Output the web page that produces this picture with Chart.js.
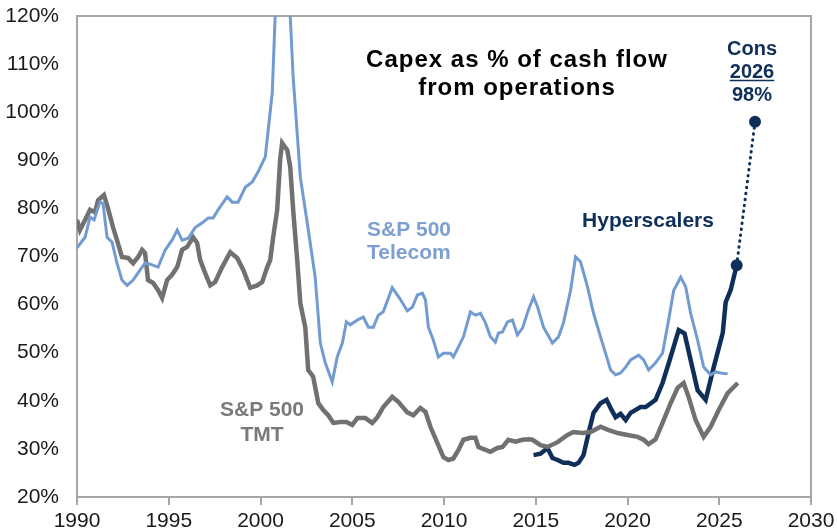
<!DOCTYPE html>
<html>
<head>
<meta charset="utf-8">
<script src="https://cdn.jsdelivr.net/npm/chart.js@4.4.0/dist/chart.umd.min.js"></script>
<style>
  html, body { margin: 0; padding: 0; background: #fff; }
  #wrap { width: 837px; height: 531px; }
</style>
</head>
<body>
<div id="wrap"><canvas id="myChart" width="837" height="531"></canvas></div>
<script>
// S&P 500 Telecom, capex as % of CFO
let telecomYears = [1990.00, 1990.44, 1990.71, 1990.93, 1991.25, 1991.42, 1991.64, 1991.91, 1992.18, 1992.45,
  1992.73, 1993.06, 1993.44, 1993.71, 1993.98, 1994.42, 1994.80, 1995.18, 1995.46, 1995.73,
  1996.06, 1996.44, 1996.82, 1997.15, 1997.42, 1997.69, 1998.18, 1998.46, 1998.78, 1999.17,
  1999.55, 1999.87, 2000.26, 2000.42, 2000.64, 2000.80, 2001.05, 2001.30, 2001.62, 2001.78,
  2002.17, 2002.44, 2002.71, 2002.98, 2003.26, 2003.53, 2003.91, 2004.18, 2004.46, 2004.68,
  2004.89, 2005.28, 2005.60, 2005.88, 2006.15, 2006.42, 2006.69, 2007.18, 2007.60, 2008.00,
  2008.28, 2008.55, 2008.82, 2008.99, 2009.15, 2009.42, 2009.69, 2009.97, 2010.35, 2010.51,
  2010.79, 2011.06, 2011.44, 2011.71, 2011.99, 2012.26, 2012.53, 2012.80, 2012.97, 2013.19,
  2013.46, 2013.73, 2014.00, 2014.28, 2014.60, 2014.88, 2015.10, 2015.42, 2015.91, 2016.24,
  2016.51, 2016.90, 2017.17, 2017.44, 2017.82, 2018.15, 2018.53, 2019.08, 2019.35, 2019.62,
  2019.90, 2020.17, 2020.61, 2020.88, 2021.15, 2021.53, 2021.91, 2022.24, 2022.52, 2022.90,
  2023.17, 2023.44, 2023.82, 2024.15, 2024.53, 2024.81, 2025.08, 2025.46];
let telecomValues = [71.8, 74.0, 78.2, 77.6, 81.3, 81.0, 74.0, 73.0, 68.6, 65.1,
  64.0, 65.1, 67.2, 68.6, 68.4, 67.8, 71.3, 73.4, 75.5, 73.4,
  73.8, 76.0, 77.0, 78.0, 78.0, 79.7, 82.4, 81.3, 81.3, 84.4,
  85.5, 87.6, 90.7, 96.3, 104.0, 120.0, 135.0, 138.0, 120.0, 107.3,
  86.5, 79.7, 72.8, 65.7, 52.0, 47.9, 43.9, 49.1, 52.0, 56.4,
  55.8, 56.8, 57.4, 55.3, 55.3, 57.8, 58.5, 63.5, 61.2, 58.7,
  59.5, 62.0, 62.4, 61.0, 55.3, 52.6, 49.1, 49.9, 49.9, 49.1,
  51.2, 53.3, 58.5, 57.8, 58.2, 56.2, 53.3, 52.2, 54.1, 54.3,
  56.4, 56.8, 53.7, 55.1, 58.9, 61.6, 59.5, 55.3, 52.0, 53.3,
  56.2, 63.0, 69.9, 68.9, 63.7, 58.2, 53.3, 46.4, 45.4, 45.8,
  47.0, 48.5, 49.5, 48.5, 46.4, 47.9, 49.9, 56.8, 63.0, 65.7,
  63.7, 58.2, 52.6, 47.0, 45.4, 46.0, 45.8, 45.6];

// S&P 500 TMT
let tmtYears = [1990.00, 1990.16, 1990.44, 1990.71, 1990.98, 1991.15, 1991.47, 1991.69, 1991.96, 1992.18,
  1992.45, 1992.78, 1993.06, 1993.33, 1993.55, 1993.71, 1993.87, 1994.15, 1994.42, 1994.64,
  1994.91, 1995.18, 1995.46, 1995.73, 1996.00, 1996.33, 1996.55, 1996.71, 1996.98, 1997.26,
  1997.53, 1997.91, 1998.35, 1998.73, 1999.06, 1999.44, 1999.82, 2000.09, 2000.37, 2000.53,
  2000.69, 2000.91, 2001.07, 2001.18, 2001.46, 2001.62, 2001.78, 2002.00, 2002.17, 2002.44,
  2002.60, 2002.87, 2003.15, 2003.42, 2003.69, 2003.97, 2004.35, 2004.68, 2005.00, 2005.28,
  2005.71, 2006.09, 2006.37, 2006.69, 2007.18, 2007.51, 2008.00, 2008.33, 2008.71, 2008.99,
  2009.26, 2009.64, 2009.97, 2010.24, 2010.51, 2010.79, 2011.06, 2011.44, 2011.71, 2011.88,
  2012.26, 2012.53, 2012.91, 2013.19, 2013.51, 2013.90, 2014.28, 2014.60, 2014.82, 2015.26,
  2015.64, 2016.19, 2016.73, 2017.06, 2017.55, 2017.99, 2018.53, 2018.91, 2019.46, 2020.00,
  2020.55, 2020.88, 2021.15, 2021.53, 2021.91, 2022.35, 2022.73, 2023.06, 2023.33, 2023.71,
  2024.15, 2024.53, 2024.97, 2025.46, 2026.01];
let tmtValues = [77.6, 75.5, 77.6, 79.7, 79.2, 81.7, 82.8, 80.0, 76.1, 73.4,
  69.9, 69.7, 68.6, 69.9, 71.4, 70.7, 65.1, 64.5, 63.0, 61.4,
  65.1, 66.2, 67.8, 71.4, 72.0, 74.0, 72.8, 69.3, 66.6, 64.0,
  64.7, 67.8, 70.9, 69.7, 67.2, 63.5, 64.0, 64.7, 67.8, 69.3,
  74.0, 79.7, 90.1, 93.6, 92.1, 88.6, 79.7, 69.3, 60.3, 55.3,
  46.4, 45.0, 39.5, 38.1, 37.0, 35.4, 35.6, 35.6, 35.0, 36.4,
  36.4, 35.4, 36.6, 38.7, 40.8, 39.8, 37.6, 37.0, 38.5, 37.7,
  34.6, 31.2, 28.3, 27.7, 28.0, 29.8, 31.9, 32.3, 32.3, 30.4,
  29.8, 29.4, 30.2, 30.4, 31.9, 31.5, 31.9, 32.0, 31.9, 30.8,
  30.4, 31.4, 32.9, 33.5, 33.3, 33.5, 34.6, 34.0, 33.3, 32.9,
  32.5, 31.9, 31.0, 32.0, 35.4, 39.5, 42.7, 43.7, 40.8, 36.0,
  32.5, 34.6, 38.1, 41.6, 43.7];

// Hyperscalers
let hyperYears = [2014.88, 2015.26, 2015.64, 2015.91, 2016.19, 2016.51, 2016.79, 2017.11, 2017.33, 2017.60,
  2017.88, 2018.15, 2018.53, 2018.86, 2019.13, 2019.35, 2019.62, 2019.90, 2020.17, 2020.71,
  2020.99, 2021.53, 2021.91, 2022.35, 2022.79, 2023.11, 2023.44, 2023.82, 2024.26, 2024.70,
  2025.19, 2025.35, 2025.62, 2025.95];
let hyperValues = [28.7, 29.0, 30.2, 28.1, 27.7, 27.1, 27.1, 26.7, 27.1, 28.7,
  33.3, 37.5, 39.5, 40.2, 38.1, 36.6, 37.3, 36.0, 37.5, 38.7,
  38.7, 40.2, 43.7, 49.1, 54.7, 54.0, 48.5, 42.2, 40.2, 47.0,
  54.1, 60.5, 63.0, 68.2];

// Consensus 2026 estimate
let consYears = [2025.95, 2026.95];
let consValues = [68.2, 98.0];

let xTicks = [1990, 1995, 2000, 2005, 2010, 2015, 2020, 2025, 2030];

const FONT = "'Liberation Sans', Arial, sans-serif";
const NAVY = "#0f2f5b";
const TELECOM_BLUE = "#729bd1";
const TMT_GREY = "#717171";
const AXIS_GREY = "#a6a6a6";

function toPoints(xs, ys) {
  return xs.map((x, i) => ({ x: x, y: ys[i] }));
}

// text labels drawn on top of the chart
let textLabels = [
  { lines: ["Capex as % of cash flow", "from operations"], x: 517, y: 60, lh: 28, size: 24, color: "#000", align: "center", spacing: 1 },
  { lines: ["Cons", "2026", "98%"], x: 752, y: 49, lh: 23, size: 20, color: NAVY, align: "center", underline: 1 },
  { lines: ["Hyperscalers"], x: 648, y: 221, lh: 22, size: 21, color: NAVY, align: "center" },
  { lines: ["S&P 500", "Telecom"], x: 367, y: 230, lh: 23, size: 21, color: "#7d9fd1", align: "left" },
  { lines: ["S&P 500", "TMT"], x: 262, y: 410, lh: 25, size: 21, color: "#7a7a7a", align: "center" }
];

const decorations = {
  id: "decorations",
  beforeDatasetsDraw(chart) {
    let a = chart.chartArea;
    let c = chart.ctx;
    c.save();
    c.strokeStyle = AXIS_GREY;
    c.lineWidth = 2;
    c.strokeRect(a.left, a.top, a.right - a.left, a.bottom - a.top);
    c.restore();
  },
  afterDraw(chart) {
    let c = chart.ctx;
    c.save();
    c.textBaseline = "middle";
    for (let lab of textLabels) {
      c.font = "bold " + lab.size + "px " + FONT;
      c.fillStyle = lab.color;
      c.textAlign = lab.align;
      c.letterSpacing = (lab.spacing || 0) + "px";
      lab.lines.forEach((txt, i) => {
        let y = lab.y + i * lab.lh;
        c.fillText(txt, lab.x, y);
        if (lab.underline === i) {
          let w = c.measureText(txt).width;
          c.strokeStyle = lab.color;
          c.lineWidth = 1.5;
          c.beginPath();
          c.moveTo(lab.x - w / 2, y + lab.size * 0.42);
          c.lineTo(lab.x + w / 2, y + lab.size * 0.42);
          c.stroke();
        }
      });
    }
    c.restore();
  }
};

let ctx = document.getElementById("myChart");
let myLineChart = new Chart(ctx, {
  type: "line",
  data: {
    datasets: [
      {
        label: "S&P 500 Telecom",
        data: toPoints(telecomYears, telecomValues),
        borderColor: TELECOM_BLUE,
        borderWidth: 3,
        pointRadius: 0,
        tension: 0,
        fill: false
      },
      {
        label: "S&P 500 TMT",
        data: toPoints(tmtYears, tmtValues),
        borderColor: TMT_GREY,
        borderWidth: 4.5,
        pointRadius: 0,
        tension: 0,
        fill: false
      },
      {
        label: "Cons 2026",
        data: toPoints(consYears, consValues),
        borderColor: NAVY,
        borderWidth: 3,
        borderDash: [0.5, 5.5],
        borderCapStyle: "round",
        pointRadius: 4.5,
        pointBackgroundColor: NAVY,
        pointBorderColor: NAVY,
        fill: false
      },
      {
        label: "Hyperscalers",
        data: toPoints(hyperYears, hyperValues),
        borderColor: NAVY,
        borderWidth: 4.5,
        pointRadius: 0,
        tension: 0,
        fill: false
      }
    ]
  },
  options: {
    responsive: false,
    animation: false,
    events: [],
    layout: { padding: { left: 0, top: 16, right: 26, bottom: 0 } },
    plugins: {
      legend: { display: false },
      tooltip: { enabled: false }
    },
    scales: {
      x: {
        type: "linear",
        min: 1990,
        max: 2030,
        afterBuildTicks: axis => { axis.ticks = xTicks.map(v => ({ value: v })); },
        afterFit: scale => {
          scale.height = 34;
          scale.paddingLeft = 0;
          scale.paddingRight = 0;
        },
        grid: {
          drawOnChartArea: false,
          drawTicks: true,
          tickLength: 8,
          color: AXIS_GREY,
          lineWidth: 2
        },
        border: { display: true, color: AXIS_GREY, width: 2 },
        ticks: {
          padding: 4,
          maxRotation: 0,
          autoSkip: false,
          color: "#1a1a1a",
          font: { family: FONT, size: 21 },
          callback: v => String(v)
        }
      },
      y: {
        min: 20,
        max: 120,
        afterFit: scale => {
          scale.width = 77;
          scale.paddingTop = 0;
          scale.paddingBottom = 0;
        },
        grid: { display: false, drawTicks: false },
        border: { display: true, color: AXIS_GREY, width: 2 },
        ticks: {
          stepSize: 10,
          padding: 18,
          color: "#1a1a1a",
          font: { family: FONT, size: 21 },
          callback: v => v + "%"
        }
      }
    }
  },
  plugins: [decorations]
});
</script>
</body>
</html>
